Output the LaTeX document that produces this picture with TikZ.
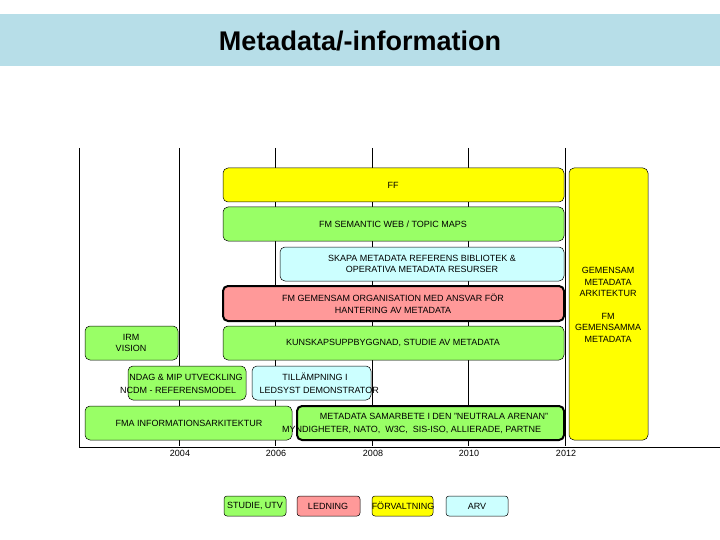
\documentclass[tikz,border=0pt]{standalone}
\usepackage{fontspec}
\setmainfont{Liberation Sans}
\definecolor{ttl}{HTML}{B7DEE8}
\definecolor{gr}{HTML}{99FF66}
\definecolor{cy}{HTML}{CCFFFF}
\definecolor{pk}{HTML}{FF9999}
\definecolor{yl}{HTML}{FFFF00}
\begin{document}
\begin{tikzpicture}[x=1pt,y=-1pt,
  bx/.style={draw=black,rounded corners=5pt,line width=0.5pt},
  thk/.style={line width=2pt},
  tx/.style={font=\fontsize{9}{11.5}\selectfont,align=center,inner sep=0pt},
  grid/.style={line width=0.6pt}]
\useasboundingbox (0,0) rectangle (720,540);
\fill[ttl] (0,14) rectangle (720,66);
\node[font=\bfseries\fontsize{27}{30}\selectfont] (title) at (360,41) {Metadata/-information};
% grid
\foreach \x/\n in {179/2004,275/2006,372/2008,468/2010,565/2012}{
  \draw[grid] (\x,148) -- (\x,446);
  \node[tx] (y\n) at (\x+1,453) {\n};}
\draw[line width=1pt] (79,148) -- (79,447) -- (720,447);
% boxes
\draw[bx,fill=yl] (569,168) rectangle (648,440);
\node[tx] (gem) at (608,305) {GEMENSAM\\METADATA\\ARKITEKTUR\\[11pt]FM\\GEMENSAMMA\\METADATA};
\draw[bx,fill=yl] (223,168) rectangle (564,202); \node[tx] (ff) at (393,185) {FF};
\draw[bx,fill=gr] (223,207) rectangle (564,241); \node[tx] (sw) at (393,224) {FM SEMANTIC WEB / TOPIC MAPS};
\draw[bx,fill=cy] (280,247) rectangle (564,281); \node[tx] (sk) at (422,264) {SKAPA METADATA REFERENS BIBLIOTEK \&\\OPERATIVA METADATA RESURSER};
\draw[bx,thk,fill=pk] (223,286) rectangle (564,321); \node[tx] (org) at (393,304) {FM GEMENSAM ORGANISATION MED ANSVAR FÖR\\HANTERING AV METADATA};
\draw[bx,fill=gr] (85,326) rectangle (178,360); \node[tx] (irm) at (131,343) {IRM\\VISION};
\draw[bx,fill=gr] (223,326) rectangle (564,360); \node[tx] (ku) at (393,343) {KUNSKAPSUPPBYGGNAD, STUDIE AV METADATA};
\draw[bx,fill=gr] (128,366) rectangle (246,400);
\draw[bx,fill=cy] (252,366) rectangle (371,400);
\node[tx] (nd) at (186,377) {NDAG \& MIP UTVECKLING};
\node[tx,anchor=west] (nc) at (120,390) {NCDM - REFERENSMODEL};
\node[tx] (ti) at (315,377) {TILLÄMPNING I};
\node[tx,anchor=east] (le) at (379,390) {LEDSYST DEMONSTRATOR};
\draw[bx,fill=gr] (85,406) rectangle (292,440); \node[tx] (fma) at (189,423) {FMA INFORMATIONSARKITEKTUR};
\draw[bx,thk,fill=gr] (297,406) rectangle (564,440);
\node[tx] (ms) at (434,416) {METADATA SAMARBETE I DEN "NEUTRALA ARENAN"};
\node[tx,anchor=west] (my) at (282,430) {MYNDIGHETER, NATO,\ \ W3C,\ \ SIS-ISO, ALLIERADE, PARTNE};
% legend
\draw[bx,rounded corners=3pt,fill=gr] (224,496) rectangle (286,516); \node[tx] (l1) at (255,506) {STUDIE, UTV};
\draw[bx,rounded corners=3pt,fill=pk] (297,496) rectangle (360,516); \node[tx] (l2) at (328,506) {LEDNING};
\draw[bx,rounded corners=3pt,fill=yl] (372,496) rectangle (433,516); \node[tx] (l3) at (403,506) {FÖRVALTNING};
\draw[bx,rounded corners=3pt,fill=cy] (446,496) rectangle (508,516); \node[tx] (l4) at (477,506) {ARV};
\end{tikzpicture}
\end{document}
